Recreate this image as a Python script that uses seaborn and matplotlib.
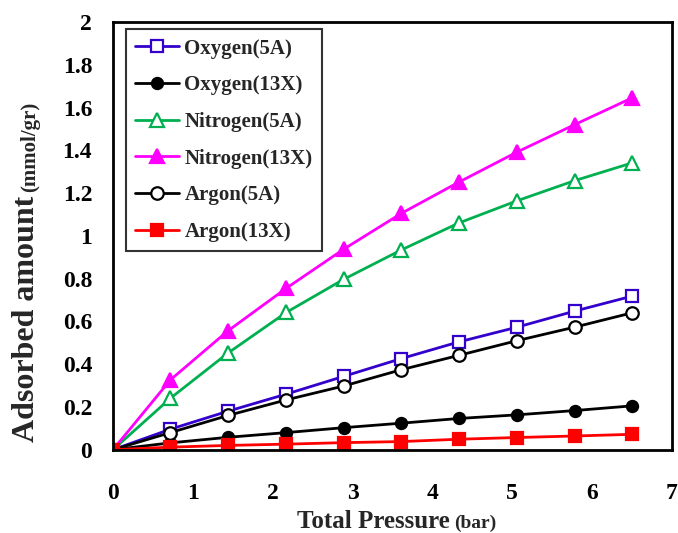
import matplotlib
matplotlib.use("Agg")
import matplotlib.pyplot as plt
import seaborn as sns
import numpy as np

# ---- data ----
pressure = [0, 0.72, 1.44, 2.17, 2.89, 3.61, 4.33, 5.06, 5.78, 6.5]
oxygen_5a = [0, 0.096, 0.18, 0.26, 0.343, 0.426, 0.504, 0.573, 0.648, 0.718]
oxygen_13x = [0, 0.032, 0.058, 0.08, 0.103, 0.124, 0.146, 0.163, 0.183, 0.205]
nitrogen_5a = [0, 0.241, 0.452, 0.642, 0.797, 0.934, 1.06, 1.164, 1.258, 1.341]
nitrogen_13x = [0, 0.327, 0.556, 0.755, 0.938, 1.105, 1.251, 1.392, 1.52, 1.645]
argon_5a = [0, 0.08, 0.16, 0.233, 0.298, 0.374, 0.441, 0.51, 0.573, 0.64]
argon_13x = [0, 0.012, 0.02, 0.026, 0.033, 0.038, 0.049, 0.057, 0.064, 0.072]

series_names = ["Oxygen(5A)", "Oxygen(13X)", "Nitrogen(5A)", "Nitrogen(13X)",
                "Argon(5A)", "Argon(13X)"]
series_values = [oxygen_5a, oxygen_13x, nitrogen_5a, nitrogen_13x, argon_5a, argon_13x]
x_ticks = [0, 1, 2, 3, 4, 5, 6, 7]
y_ticks = [0, 0.2, 0.4, 0.6, 0.8, 1, 1.2, 1.4, 1.6, 1.8, 2]

# ---- styles ----
colors = ["#3300CC", "#000000", "#00B050", "#FF00FF", "#000000", "#FF0000"]
markers = ["s", "o", "^", "^", "o", "s"]
filled = [False, True, False, True, False, True]
msizes = [9, 8, 10, 10, 9, 8.5]

sns.set_theme(style="white")
plt.rcParams["font.family"] = ["Liberation Serif", "DejaVu Serif"]
plt.rcParams["font.weight"] = "bold"

W, H = 678, 533
fig = plt.figure(figsize=(W / 100, H / 100), dpi=100)
ax_left, ax_right, ax_top, ax_bottom = 113, 672, 22, 449.7
ax = fig.add_axes([ax_left / W, 1 - ax_bottom / H,
                   (ax_right - ax_left) / W, (ax_bottom - ax_top) / H])

for name, vals, c, m, f, ms in zip(series_names, series_values, colors, markers, filled, msizes):
    sns.lineplot(x=pressure, y=vals, ax=ax, color=c, linewidth=2.0,
                 marker=m, markersize=ms,
                 markerfacecolor=(c if f else "white"),
                 markeredgecolor=c, markeredgewidth=1.6,
                 label=name, legend=False)

ax.set_xlim(0, 7)
ax.set_ylim(0, 2)
ax.set_xticks(x_ticks)
ax.set_yticks(y_ticks)
ax.set_xticklabels([f"{t:g}" for t in x_ticks], fontsize=17, fontweight="bold")
ax.set_yticklabels([f"{t:g}" for t in y_ticks], fontsize=17, fontweight="bold")
ax.tick_params(axis="both", which="major", direction="out", length=6, width=1,
               color="#555555", pad=9, labelcolor="black")
ax.tick_params(axis="x", pad=18)
ax.set_xlabel("")
ax.set_ylabel("")
for s in ax.spines.values():
    s.set_visible(True)
    s.set_color("black")
    s.set_linewidth(2)

leg = ax.legend(loc="upper left", bbox_to_anchor=(0.0233, 0.983), borderaxespad=0,
                frameon=True, fancybox=False, edgecolor="black",
                prop={"family": "Liberation Serif", "weight": "bold", "size": 15},
                handlelength=2.1, handletextpad=0.25, labelspacing=0.80,
                borderpad=0.45)
leg.get_frame().set_linewidth(1.5)

# axis titles with mixed sizes
fig.text(450 / W, 1 - 521 / H, "Total Pressure", ha="right", va="center",
         fontsize=18, fontweight="bold")
fig.text(454 / W, 1 - 523 / H, "(bar)", ha="left", va="center",
         fontsize=14, fontweight="bold")
fig.text(27 / W, 1 - 442 / H, "Adsorbed amount", ha="center", va="bottom",
         rotation=90, fontsize=23, fontweight="bold")
fig.text(30 / W, 1 - 192 / H, "(mmol/gr)", ha="center", va="bottom",
         rotation=90, fontsize=15, fontweight="bold")

fig.savefig("out.png", dpi=100, facecolor="white")
